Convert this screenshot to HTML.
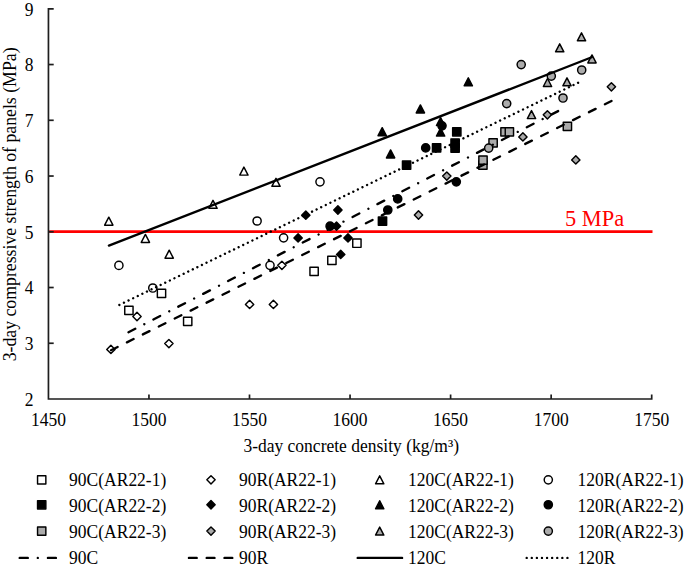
<!DOCTYPE html><html><head><meta charset="utf-8"><style>html,body{margin:0;padding:0;background:#fff;}svg{display:block;}text{font-family:"Liberation Serif",serif;}</style></head><body>
<svg width="685" height="566" viewBox="0 0 685 566">
<rect width="685" height="566" fill="#fff"/>
<line x1="49.2" y1="231.6" x2="652.5" y2="231.6" stroke="#ff0000" stroke-width="2.7"/>
<text transform="translate(565 226) scale(1 1.03)" font-size="22.4" fill="#ff0000">5 MPa</text>
<rect x="124.75" y="306.25" width="8.3" height="8.3" fill="#fff" stroke="#000" stroke-width="1.45" stroke-linejoin="round"/>
<rect x="157.35" y="289.15" width="8.3" height="8.3" fill="#fff" stroke="#000" stroke-width="1.45" stroke-linejoin="round"/>
<rect x="183.55" y="317.15" width="8.3" height="8.3" fill="#fff" stroke="#000" stroke-width="1.45" stroke-linejoin="round"/>
<rect x="309.95" y="267.25" width="8.3" height="8.3" fill="#fff" stroke="#000" stroke-width="1.45" stroke-linejoin="round"/>
<rect x="327.75" y="256.15" width="8.3" height="8.3" fill="#fff" stroke="#000" stroke-width="1.45" stroke-linejoin="round"/>
<rect x="352.75" y="239.05" width="8.3" height="8.3" fill="#fff" stroke="#000" stroke-width="1.45" stroke-linejoin="round"/>
<path d="M110.90 345.25L115.05 349.40L110.90 353.55L106.75 349.40Z" fill="#fff" stroke="#000" stroke-width="1.45" stroke-linejoin="round"/>
<path d="M137.00 312.35L141.15 316.50L137.00 320.65L132.85 316.50Z" fill="#fff" stroke="#000" stroke-width="1.45" stroke-linejoin="round"/>
<path d="M168.90 339.45L173.05 343.60L168.90 347.75L164.75 343.60Z" fill="#fff" stroke="#000" stroke-width="1.45" stroke-linejoin="round"/>
<path d="M249.60 300.25L253.75 304.40L249.60 308.55L245.45 304.40Z" fill="#fff" stroke="#000" stroke-width="1.45" stroke-linejoin="round"/>
<path d="M273.40 300.25L277.55 304.40L273.40 308.55L269.25 304.40Z" fill="#fff" stroke="#000" stroke-width="1.45" stroke-linejoin="round"/>
<path d="M281.90 261.15L286.05 265.30L281.90 269.45L277.75 265.30Z" fill="#fff" stroke="#000" stroke-width="1.45" stroke-linejoin="round"/>
<path d="M108.80 217.20L112.95 225.20L104.65 225.20Z" fill="#fff" stroke="#000" stroke-width="1.45" stroke-linejoin="round"/>
<path d="M145.40 234.40L149.55 242.40L141.25 242.40Z" fill="#fff" stroke="#000" stroke-width="1.45" stroke-linejoin="round"/>
<path d="M169.20 250.20L173.35 258.20L165.05 258.20Z" fill="#fff" stroke="#000" stroke-width="1.45" stroke-linejoin="round"/>
<path d="M213.00 200.30L217.15 208.30L208.85 208.30Z" fill="#fff" stroke="#000" stroke-width="1.45" stroke-linejoin="round"/>
<path d="M243.90 167.10L248.05 175.10L239.75 175.10Z" fill="#fff" stroke="#000" stroke-width="1.45" stroke-linejoin="round"/>
<path d="M276.00 178.30L280.15 186.30L271.85 186.30Z" fill="#fff" stroke="#000" stroke-width="1.45" stroke-linejoin="round"/>
<circle cx="118.90" cy="265.40" r="4.1" fill="#fff" stroke="#000" stroke-width="1.45"/>
<circle cx="152.80" cy="288.00" r="4.1" fill="#fff" stroke="#000" stroke-width="1.45"/>
<circle cx="257.10" cy="221.00" r="4.1" fill="#fff" stroke="#000" stroke-width="1.45"/>
<circle cx="270.00" cy="265.30" r="4.1" fill="#fff" stroke="#000" stroke-width="1.45"/>
<circle cx="283.60" cy="237.80" r="4.1" fill="#fff" stroke="#000" stroke-width="1.45"/>
<circle cx="320.00" cy="181.80" r="4.1" fill="#fff" stroke="#000" stroke-width="1.45"/>
<rect x="378.35" y="217.05" width="8.3" height="8.3" fill="#000" stroke="#000" stroke-width="1.45" stroke-linejoin="round"/>
<rect x="402.45" y="160.95" width="8.3" height="8.3" fill="#000" stroke="#000" stroke-width="1.45" stroke-linejoin="round"/>
<rect x="432.45" y="143.75" width="8.3" height="8.3" fill="#000" stroke="#000" stroke-width="1.45" stroke-linejoin="round"/>
<rect x="452.65" y="127.65" width="8.3" height="8.3" fill="#000" stroke="#000" stroke-width="1.45" stroke-linejoin="round"/>
<rect x="450.95" y="138.85" width="8.3" height="8.3" fill="#000" stroke="#000" stroke-width="1.45" stroke-linejoin="round"/>
<rect x="450.95" y="143.95" width="8.3" height="8.3" fill="#000" stroke="#000" stroke-width="1.45" stroke-linejoin="round"/>
<path d="M298.10 233.75L302.25 237.90L298.10 242.05L293.95 237.90Z" fill="#000" stroke="#000" stroke-width="1.45" stroke-linejoin="round"/>
<path d="M305.80 211.05L309.95 215.20L305.80 219.35L301.65 215.20Z" fill="#000" stroke="#000" stroke-width="1.45" stroke-linejoin="round"/>
<path d="M337.90 205.85L342.05 210.00L337.90 214.15L333.75 210.00Z" fill="#000" stroke="#000" stroke-width="1.45" stroke-linejoin="round"/>
<path d="M336.50 222.05L340.65 226.20L336.50 230.35L332.35 226.20Z" fill="#000" stroke="#000" stroke-width="1.45" stroke-linejoin="round"/>
<path d="M348.00 233.75L352.15 237.90L348.00 242.05L343.85 237.90Z" fill="#000" stroke="#000" stroke-width="1.45" stroke-linejoin="round"/>
<path d="M340.70 250.25L344.85 254.40L340.70 258.55L336.55 254.40Z" fill="#000" stroke="#000" stroke-width="1.45" stroke-linejoin="round"/>
<path d="M382.20 127.70L386.35 135.70L378.05 135.70Z" fill="#000" stroke="#000" stroke-width="1.45" stroke-linejoin="round"/>
<path d="M390.60 149.90L394.75 157.90L386.45 157.90Z" fill="#000" stroke="#000" stroke-width="1.45" stroke-linejoin="round"/>
<path d="M420.40 104.90L424.55 112.90L416.25 112.90Z" fill="#000" stroke="#000" stroke-width="1.45" stroke-linejoin="round"/>
<path d="M468.30 77.80L472.45 85.80L464.15 85.80Z" fill="#000" stroke="#000" stroke-width="1.45" stroke-linejoin="round"/>
<path d="M440.60 128.00L444.75 136.00L436.45 136.00Z" fill="#000" stroke="#000" stroke-width="1.45" stroke-linejoin="round"/>
<path d="M440.60 117.50L444.75 125.50L436.45 125.50Z" fill="#000" stroke="#000" stroke-width="1.45" stroke-linejoin="round"/>
<circle cx="330.10" cy="226.20" r="4.1" fill="#000" stroke="#000" stroke-width="1.45"/>
<circle cx="387.80" cy="210.00" r="4.1" fill="#000" stroke="#000" stroke-width="1.45"/>
<circle cx="397.70" cy="198.90" r="4.1" fill="#000" stroke="#000" stroke-width="1.45"/>
<circle cx="425.70" cy="147.90" r="4.1" fill="#000" stroke="#000" stroke-width="1.45"/>
<circle cx="456.30" cy="181.80" r="4.1" fill="#000" stroke="#000" stroke-width="1.45"/>
<circle cx="442.00" cy="125.80" r="4.1" fill="#000" stroke="#000" stroke-width="1.45"/>
<rect x="478.75" y="160.85" width="8.3" height="8.3" fill="#ababab" stroke="#000" stroke-width="1.45" stroke-linejoin="round"/>
<rect x="478.85" y="155.95" width="8.3" height="8.3" fill="#ababab" stroke="#000" stroke-width="1.45" stroke-linejoin="round"/>
<rect x="488.95" y="138.75" width="8.3" height="8.3" fill="#ababab" stroke="#000" stroke-width="1.45" stroke-linejoin="round"/>
<rect x="500.85" y="127.65" width="8.3" height="8.3" fill="#ababab" stroke="#000" stroke-width="1.45" stroke-linejoin="round"/>
<rect x="505.25" y="127.65" width="8.3" height="8.3" fill="#ababab" stroke="#000" stroke-width="1.45" stroke-linejoin="round"/>
<rect x="563.25" y="122.15" width="8.3" height="8.3" fill="#ababab" stroke="#000" stroke-width="1.45" stroke-linejoin="round"/>
<path d="M418.50 210.85L422.65 215.00L418.50 219.15L414.35 215.00Z" fill="#ababab" stroke="#000" stroke-width="1.45" stroke-linejoin="round"/>
<path d="M446.80 171.95L450.95 176.10L446.80 180.25L442.65 176.10Z" fill="#ababab" stroke="#000" stroke-width="1.45" stroke-linejoin="round"/>
<path d="M522.90 132.75L527.05 136.90L522.90 141.05L518.75 136.90Z" fill="#ababab" stroke="#000" stroke-width="1.45" stroke-linejoin="round"/>
<path d="M547.40 110.65L551.55 114.80L547.40 118.95L543.25 114.80Z" fill="#ababab" stroke="#000" stroke-width="1.45" stroke-linejoin="round"/>
<path d="M575.80 155.75L579.95 159.90L575.80 164.05L571.65 159.90Z" fill="#ababab" stroke="#000" stroke-width="1.45" stroke-linejoin="round"/>
<path d="M611.40 82.65L615.55 86.80L611.40 90.95L607.25 86.80Z" fill="#ababab" stroke="#000" stroke-width="1.45" stroke-linejoin="round"/>
<path d="M531.50 110.60L535.65 118.60L527.35 118.60Z" fill="#ababab" stroke="#000" stroke-width="1.45" stroke-linejoin="round"/>
<path d="M547.50 78.50L551.65 86.50L543.35 86.50Z" fill="#ababab" stroke="#000" stroke-width="1.45" stroke-linejoin="round"/>
<path d="M559.70 43.80L563.85 51.80L555.55 51.80Z" fill="#ababab" stroke="#000" stroke-width="1.45" stroke-linejoin="round"/>
<path d="M567.00 77.80L571.15 85.80L562.85 85.80Z" fill="#ababab" stroke="#000" stroke-width="1.45" stroke-linejoin="round"/>
<path d="M581.50 32.80L585.65 40.80L577.35 40.80Z" fill="#ababab" stroke="#000" stroke-width="1.45" stroke-linejoin="round"/>
<path d="M592.00 54.90L596.15 62.90L587.85 62.90Z" fill="#ababab" stroke="#000" stroke-width="1.45" stroke-linejoin="round"/>
<circle cx="488.70" cy="148.10" r="4.1" fill="#ababab" stroke="#000" stroke-width="1.45"/>
<circle cx="506.70" cy="103.60" r="4.1" fill="#ababab" stroke="#000" stroke-width="1.45"/>
<circle cx="521.20" cy="64.60" r="4.1" fill="#ababab" stroke="#000" stroke-width="1.45"/>
<circle cx="551.30" cy="76.10" r="4.1" fill="#ababab" stroke="#000" stroke-width="1.45"/>
<circle cx="563.00" cy="98.00" r="4.1" fill="#ababab" stroke="#000" stroke-width="1.45"/>
<circle cx="581.70" cy="70.00" r="4.1" fill="#ababab" stroke="#000" stroke-width="1.45"/>
<line x1="108.9" y1="245.6" x2="591.7" y2="57.25" stroke="#000" stroke-width="2.35" stroke-linecap="round"/>
<line x1="119.4" y1="304.9" x2="578.1" y2="82.8" stroke="#000" stroke-width="2.4" stroke-linecap="round" stroke-dasharray="0.001 5.095"/>
<line x1="128.5" y1="332.3" x2="558.1" y2="111.1" stroke="#000" stroke-width="2.35" stroke-linecap="round" stroke-dasharray="7.6 10.2 0.001 10.2"/>
<line x1="111.0" y1="350.3" x2="611.8" y2="100.8" stroke="#000" stroke-width="2.35" stroke-linecap="round" stroke-dasharray="7.4 10.4"/>
<path d="M53.7 8.8H48.45V399.0H651.7V394.5" fill="none" stroke="#1e1e1e" stroke-width="1.7"/>
<line x1="48.45" y1="343.26" x2="53.7" y2="343.26" stroke="#1e1e1e" stroke-width="1.7"/>
<line x1="48.45" y1="287.51" x2="53.7" y2="287.51" stroke="#1e1e1e" stroke-width="1.7"/>
<line x1="48.45" y1="231.77" x2="53.7" y2="231.77" stroke="#1e1e1e" stroke-width="1.7"/>
<line x1="48.45" y1="176.03" x2="53.7" y2="176.03" stroke="#1e1e1e" stroke-width="1.7"/>
<line x1="48.45" y1="120.29" x2="53.7" y2="120.29" stroke="#1e1e1e" stroke-width="1.7"/>
<line x1="48.45" y1="64.54" x2="53.7" y2="64.54" stroke="#1e1e1e" stroke-width="1.7"/>
<line x1="148.95" y1="399" x2="148.95" y2="394.5" stroke="#1e1e1e" stroke-width="1.7"/>
<line x1="249.50" y1="399" x2="249.50" y2="394.5" stroke="#1e1e1e" stroke-width="1.7"/>
<line x1="350.05" y1="399" x2="350.05" y2="394.5" stroke="#1e1e1e" stroke-width="1.7"/>
<line x1="450.60" y1="399" x2="450.60" y2="394.5" stroke="#1e1e1e" stroke-width="1.7"/>
<line x1="551.15" y1="399" x2="551.15" y2="394.5" stroke="#1e1e1e" stroke-width="1.7"/>
<text transform="translate(33.5 405.90) scale(1 1.02)" font-size="17.5" text-anchor="end" fill="#000">2</text>
<text transform="translate(33.5 350.16) scale(1 1.02)" font-size="17.5" text-anchor="end" fill="#000">3</text>
<text transform="translate(33.5 294.41) scale(1 1.02)" font-size="17.5" text-anchor="end" fill="#000">4</text>
<text transform="translate(33.5 238.67) scale(1 1.02)" font-size="17.5" text-anchor="end" fill="#000">5</text>
<text transform="translate(33.5 182.93) scale(1 1.02)" font-size="17.5" text-anchor="end" fill="#000">6</text>
<text transform="translate(33.5 127.19) scale(1 1.02)" font-size="17.5" text-anchor="end" fill="#000">7</text>
<text transform="translate(33.5 71.44) scale(1 1.02)" font-size="17.5" text-anchor="end" fill="#000">8</text>
<text transform="translate(33.5 15.70) scale(1 1.02)" font-size="17.5" text-anchor="end" fill="#000">9</text>
<text transform="translate(48.40 425.8) scale(1 1.02)" font-size="17.5" text-anchor="middle" fill="#000">1450</text>
<text transform="translate(148.95 425.8) scale(1 1.02)" font-size="17.5" text-anchor="middle" fill="#000">1500</text>
<text transform="translate(249.50 425.8) scale(1 1.02)" font-size="17.5" text-anchor="middle" fill="#000">1550</text>
<text transform="translate(350.05 425.8) scale(1 1.02)" font-size="17.5" text-anchor="middle" fill="#000">1600</text>
<text transform="translate(450.60 425.8) scale(1 1.02)" font-size="17.5" text-anchor="middle" fill="#000">1650</text>
<text transform="translate(551.15 425.8) scale(1 1.02)" font-size="17.5" text-anchor="middle" fill="#000">1700</text>
<text transform="translate(651.70 425.8) scale(1 1.02)" font-size="17.5" text-anchor="middle" fill="#000">1750</text>
<text transform="translate(351.2 451.7) scale(1 1.05)" font-size="17.5" text-anchor="middle" fill="#000">3-day concrete density (kg/m³)</text>
<text transform="translate(15.6 204.4) rotate(-90) scale(1 1.08)" font-size="17.75" text-anchor="middle" fill="#000">3-day compressive strength of panels (MPa)</text>
<rect x="37.55" y="475.65" width="8.3" height="8.3" fill="#fff" stroke="#000" stroke-width="1.45" stroke-linejoin="round"/>
<rect x="37.55" y="500.60" width="8.3" height="8.3" fill="#000" stroke="#000" stroke-width="1.45" stroke-linejoin="round"/>
<rect x="37.55" y="526.90" width="8.3" height="8.3" fill="#ababab" stroke="#000" stroke-width="1.45" stroke-linejoin="round"/>
<text transform="translate(69.1 485.70) scale(1 1.08)" font-size="17.5" fill="#000">90C(AR22-1)</text>
<text transform="translate(69.1 512.15) scale(1 1.08)" font-size="17.5" fill="#000">90C(AR22-2)</text>
<text transform="translate(69.1 537.85) scale(1 1.08)" font-size="17.5" fill="#000">90C(AR22-3)</text>
<text transform="translate(69.1 563.90) scale(1 1.08)" font-size="17.5" fill="#000">90C</text>
<path d="M211.00 475.65L215.15 479.80L211.00 483.95L206.85 479.80Z" fill="#fff" stroke="#000" stroke-width="1.45" stroke-linejoin="round"/>
<path d="M211.00 500.60L215.15 504.75L211.00 508.90L206.85 504.75Z" fill="#000" stroke="#000" stroke-width="1.45" stroke-linejoin="round"/>
<path d="M211.00 526.90L215.15 531.05L211.00 535.20L206.85 531.05Z" fill="#ababab" stroke="#000" stroke-width="1.45" stroke-linejoin="round"/>
<text transform="translate(239.0 485.70) scale(1 1.08)" font-size="17.5" fill="#000">90R(AR22-1)</text>
<text transform="translate(239.0 512.15) scale(1 1.08)" font-size="17.5" fill="#000">90R(AR22-2)</text>
<text transform="translate(239.0 537.85) scale(1 1.08)" font-size="17.5" fill="#000">90R(AR22-3)</text>
<text transform="translate(239.0 563.90) scale(1 1.08)" font-size="17.5" fill="#000">90R</text>
<path d="M379.70 475.80L383.85 483.80L375.55 483.80Z" fill="#fff" stroke="#000" stroke-width="1.45" stroke-linejoin="round"/>
<path d="M379.70 500.75L383.85 508.75L375.55 508.75Z" fill="#000" stroke="#000" stroke-width="1.45" stroke-linejoin="round"/>
<path d="M379.70 527.05L383.85 535.05L375.55 535.05Z" fill="#ababab" stroke="#000" stroke-width="1.45" stroke-linejoin="round"/>
<text transform="translate(408.0 485.70) scale(1 1.08)" font-size="17.5" fill="#000">120C(AR22-1)</text>
<text transform="translate(408.0 512.15) scale(1 1.08)" font-size="17.5" fill="#000">120C(AR22-2)</text>
<text transform="translate(408.0 537.85) scale(1 1.08)" font-size="17.5" fill="#000">120C(AR22-3)</text>
<text transform="translate(408.0 563.90) scale(1 1.08)" font-size="17.5" fill="#000">120C</text>
<circle cx="548.30" cy="479.80" r="4.1" fill="#fff" stroke="#000" stroke-width="1.45"/>
<circle cx="548.30" cy="504.75" r="4.1" fill="#000" stroke="#000" stroke-width="1.45"/>
<circle cx="548.30" cy="531.05" r="4.1" fill="#ababab" stroke="#000" stroke-width="1.45"/>
<text transform="translate(577.6 485.70) scale(1 1.08)" font-size="17.5" fill="#000">120R(AR22-1)</text>
<text transform="translate(577.6 512.15) scale(1 1.08)" font-size="17.5" fill="#000">120R(AR22-2)</text>
<text transform="translate(577.6 537.85) scale(1 1.08)" font-size="17.5" fill="#000">120R(AR22-3)</text>
<text transform="translate(577.6 563.90) scale(1 1.08)" font-size="17.5" fill="#000">120R</text>
<line x1="19.7" y1="557.9" x2="55.9" y2="557.9" stroke="#000" stroke-width="2.35" stroke-linecap="round" stroke-dasharray="8.1 10 0.001 10.1"/>
<line x1="188.9" y1="557.9" x2="232.3" y2="557.9" stroke="#000" stroke-width="2.35" stroke-linecap="round" stroke-dasharray="7.8 10"/>
<line x1="357.7" y1="557.9" x2="402.1" y2="557.9" stroke="#000" stroke-width="2.35" stroke-linecap="round"/>
<line x1="526.7" y1="557.9" x2="567.5" y2="557.9" stroke="#000" stroke-width="2.4" stroke-linecap="round" stroke-dasharray="0.001 5.09"/>
</svg></body></html>
